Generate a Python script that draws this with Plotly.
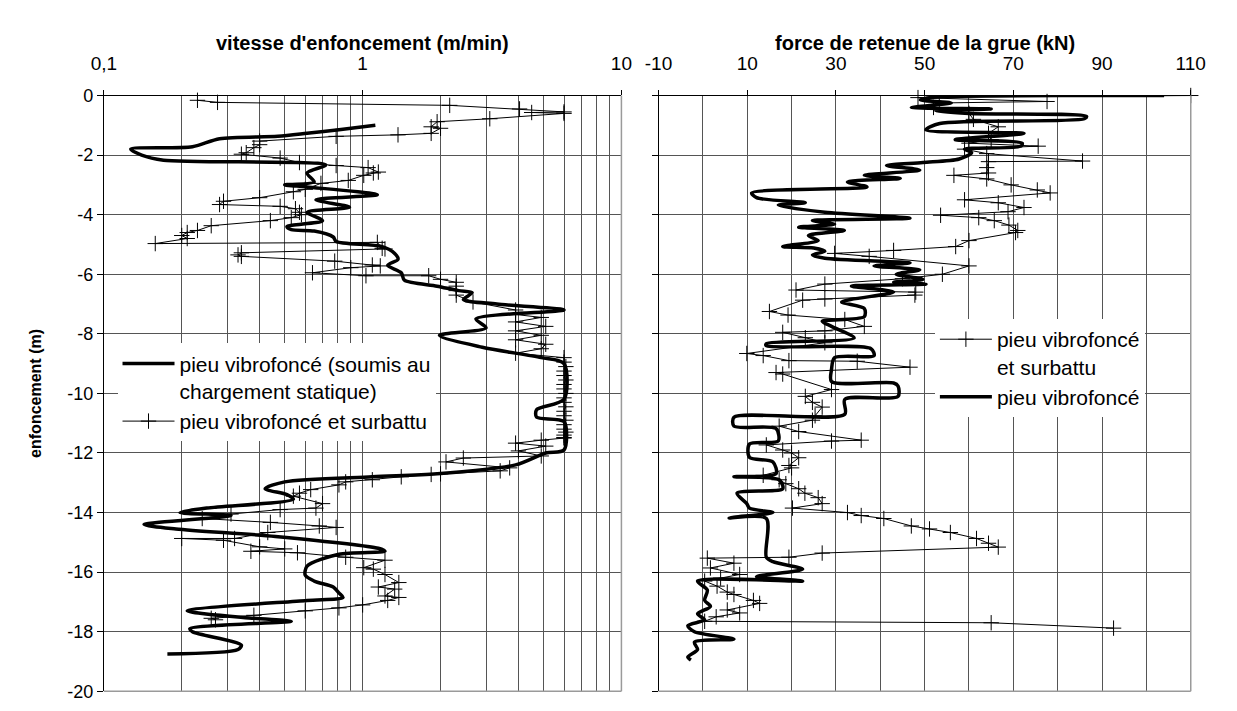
import plotly.graph_objects as go

# ---------------- data ----------------
# Left panel: vitesse d'enfoncement (m/min) vs enfoncement (m)
vit_statique_v = [1.12, 0.81, 0.61, 0.47, 0.28, 0.22, 0.127, 0.14, 0.17, 0.72, 0.61, 0.65, 0.50, 0.61,
                  1.14, 0.66, 0.89, 0.61, 0.70, 0.51, 0.53, 0.65, 0.77, 0.79, 1.19, 1.33, 1.37, 1.25,
                  1.41, 1.45, 1.94, 2.35, 2.65, 2.45, 3.3, 6.0, 2.74, 3.0, 1.98, 2.9, 4.9, 6.0, 6.0,
                  4.7, 4.7, 6.0, 6.0, 5.1, 3.9, 1.94, 1.09, 0.50, 0.42, 0.51, 0.54, 0.25, 0.197, 0.31,
                  0.143, 0.19, 0.46, 1.15, 1.22, 0.81, 0.61, 0.60, 0.65, 0.77, 0.81, 0.84, 0.61, 0.21,
                  0.38, 0.53, 0.215, 0.22, 0.34, 0.33, 0.176]
vit_statique_d = [-1.0, -1.15, -1.27, -1.37, -1.45, -1.72, -1.8, -2.0, -2.17, -2.33, -2.6, -2.9, -3.0, -3.07,
                  -3.33, -3.5, -3.75, -3.92, -4.2, -4.4, -4.5, -4.55, -4.75, -4.9, -5.07, -5.3, -5.5, -5.7,
                  -5.95, -6.2, -6.4, -6.55, -6.62, -6.85, -7.0, -7.2, -7.5, -7.8, -8.05, -8.45, -8.8, -9.0, -10.2,
                  -10.55, -10.8, -10.95, -11.9, -12.0, -12.4, -12.7, -12.8, -12.97, -13.2, -13.4, -13.55, -13.85, -14.0, -14.1,
                  -14.4, -14.55, -14.8, -15.2, -15.3, -15.4, -15.8, -16.1, -16.3, -16.5, -16.7, -16.85, -16.95, -17.3,
                  -17.55, -17.65, -17.9, -18.0, -18.45, -18.6, -18.75]

vit_surbattu_v = [0.23, 0.275, 2.17, 4.04, 6.0, 4.5, 6.0, 3.1, 1.94, 1.84, 2.0, 1.84, 1.37, 0.79, 0.40, 0.40,
                  0.38, 0.355, 0.34, 0.48, 0.57, 0.79, 1.05, 1.15, 1.10, 1.01, 0.88, 0.69, 0.60, 0.54, 0.40,
                  0.29, 0.28, 0.48, 0.55, 0.57, 0.58, 0.53, 0.44, 0.26, 0.23, 0.21, 0.20, 0.21, 0.158, 1.14,
                  1.19, 1.22, 0.34, 0.33, 0.34, 0.78, 1.09, 1.17, 0.90, 0.64, 1.03, 1.8, 2.0, 2.3, 2.3, 2.3,
                  2.3, 2.67, 3.9, 3.9, 4.9, 3.9, 5.1, 3.9, 4.9, 3.9, 5.1, 4.9, 3.9, 6.0, 6.0, 6.1, 6.0, 6.0,
                  6.1, 6.0, 6.0, 6.1, 6.0, 6.0, 6.1, 6.0, 6.0, 6.1, 6.0, 6.0, 6.1, 6.0, 6.0, 6.0, 4.9, 3.9,
                  5.1, 4.0, 4.9, 2.45, 2.1, 3.7, 3.4, 2.0, 1.84, 1.41, 1.09, 0.86, 0.81, 0.63, 0.57, 0.54,
                  0.70, 0.66, 0.48, 0.31, 0.24, 0.44, 0.68, 0.79, 0.43, 0.32, 0.20, 0.29, 0.40, 0.50, 0.37,
                  0.56, 0.86, 1.22, 1.01, 1.10, 1.22, 1.38, 1.15, 1.33, 1.22, 1.38, 1.25, 1.0, 0.81, 0.60,
                  0.38, 0.26, 0.27]
vit_surbattu_d = [-0.16, -0.23, -0.33, -0.45, -0.55, -0.57, -0.6, -0.78, -0.88, -1.05, -1.1, -1.27, -1.32, -1.37, -1.53, -1.65,
                  -1.75, -1.92, -1.97, -2.1, -2.25, -2.35, -2.42, -2.57, -2.6, -2.68, -2.85, -2.95, -3.15, -3.23, -3.43,
                  -3.55, -3.66, -3.72, -3.8, -3.92, -4.0, -4.1, -4.2, -4.37, -4.53, -4.6, -4.7, -4.8, -4.97, -4.93,
                  -5.13, -5.15, -5.28, -5.35, -5.4, -5.56, -5.69, -5.72, -5.78, -5.95, -6.05, -6.05, -6.17, -6.27, -6.4, -6.55,
                  -6.7, -6.93, -7.2, -7.35, -7.45, -7.6, -7.75, -7.9, -8.05, -8.2, -8.35, -8.5, -8.65, -8.8, -8.95, -9.1, -9.25, -9.4,
                  -9.55, -9.7, -9.85, -10.0, -10.15, -10.3, -10.45, -10.6, -10.75, -10.9, -11.05, -11.2, -11.3, -11.4, -11.48, -11.5, -11.57, -11.67,
                  -11.77, -11.93, -12.1, -12.17, -12.3, -12.5, -12.6, -12.7, -12.72, -12.8, -12.9, -12.97, -13.07, -13.23, -13.35, -13.45,
                  -13.7, -13.85, -13.9, -14.05, -14.2, -14.33, -14.45, -14.5, -14.67, -14.87, -14.87, -14.93, -15.15, -15.22, -15.3,
                  -15.35, -15.5, -15.6, -15.85, -15.9, -16.08, -16.35, -16.5, -16.57, -16.8, -16.85, -16.95, -17.1, -17.2, -17.3,
                  -17.45, -17.55, -17.6]

# Right panel: force de retenue de la grue (kN) vs enfoncement (m)
force_vibro_f = [104, 52, 49, 56, 47, 65, 52.5, 60, 86.5, 86, 53.4, 50.3, 72.4, 56.9, 72, 71.7, 59, 60.6,
                 57.8, 49.6, 41.4, 48.9, 36.4, 44.5, 32.6, 37, 11, 12.1, 23.1, 17, 27.5, 46.7, 24.7, 29.7,
                 21.6, 31.9, 23.8, 26, 18, 25, 27.5, 24.7, 27.5, 46.7, 38.6, 48.9, 43.6, 49.6, 43, 50.3, 33.5,
                 43, 31.3, 36.4, 36.4, 26.9, 29, 34.1, 14.3, 14.3, 37.9, 38.6, 29.7, 29, 29, 43, 44, 44, 32, 32,
                 7, 7, 16.5, 17, 10.5, 10.5, 15.8, 16.5, 7, 17.2, 18, 7.7, 9.9, 10.5, 15.8, 5.9, 14.3, 14.3,
                 15.8, 22.5, 12.1, 22.5, -1.2, 1, 0.4, 1.7, -1.2, 0.4, -3.4, -1.9, 7, -1.9, -1.2, -3.4, -2.7]
force_vibro_d = [0.0, -0.06, -0.15, -0.25, -0.4, -0.45, -0.52, -0.6, -0.7, -0.78, -0.94, -1.15, -1.27, -1.48, -1.6, -1.7, -1.8, -1.92,
                 -2.13, -2.25, -2.35, -2.5, -2.68, -2.78, -2.9, -3.07, -3.27, -3.43, -3.6, -3.68, -3.92, -4.12, -4.2, -4.32,
                 -4.42, -4.53, -4.7, -4.87, -5.07, -5.12, -5.23, -5.35, -5.46, -5.62, -5.72, -5.85, -6.0, -6.17, -6.27, -6.33, -6.4,
                 -6.6, -6.93, -7.15, -7.42, -7.58, -7.75, -8.14, -8.33, -8.4, -8.5, -8.73, -8.8, -9.2, -9.6, -9.65, -9.75, -10.1, -10.2, -10.7,
                 -10.8, -11.1, -11.18, -11.6, -11.7, -12.15, -12.3, -12.7, -12.8, -12.9, -13.2, -13.35, -13.7, -13.85, -14.0, -14.18, -14.2, -15.5,
                 -15.65, -15.9, -16.15, -16.3, -16.3, -16.6, -16.95, -17.15, -17.4, -17.6, -17.8, -18.0, -18.25, -18.35, -18.6, -18.85, -18.95]

force_surbattu_f = [110, 48.5, 77.6, 53.3, 52, 60, 61, 66.6, 64.4, 65, 60, 75.6, 59, 64, 85.6, 64.4, 64, 64.4,
                    56.6, 64, 69.5, 75.4, 78.3, 59, 66.6, 72.4, 68.8, 53.6, 62.2, 65.7, 69, 71, 70.5, 60, 57,
                    43, 29.7, 37.5, 60, 54, 45, 27.5, 21, 48, 47.8, 27.5, 22.5, 15, 19.2, 32, 36.4, 27.5, 18,
                    23.1, 27.5, 9.9, 13.6, 19.4, 34.8, 46.7, 16.5, 18, 29, 23.1, 24.7, 26.9, 25.3, 24.7, 17.2,
                    21.6, 35.7, 29, 14.3, 18, 20, 21.6, 19.4, 20, 13.6, 17.2, 18.7, 21.6, 23, 26, 26.9, 20.2,
                    32.6, 35.7, 40.8, 47, 51.1, 55.8, 61.7, 64.4, 66.6, 26.9, 19.4, 1, 7, 1.7, 8.3, 4, 0.4,
                    3.2, 5.5, 7, 11.4, 12.8, 5.5, 8.3, 3, 0.4, 65, 92.6]
force_surbattu_d = [0.0, -0.07, -0.2, -0.25, -0.4, -0.6, -0.8, -1.05, -1.27, -1.48, -1.6, -1.7, -1.8, -1.95, -2.2, -2.22, -2.42, -2.6,
                    -2.68, -2.8, -3.0, -3.17, -3.27, -3.5, -3.6, -3.76, -3.9, -4.02, -4.1, -4.2, -4.35, -4.53, -4.6, -4.87, -5.07,
                    -5.2, -5.3, -5.4, -5.72, -6.0, -6.15, -6.33, -6.53, -6.6, -6.7, -6.83, -6.87, -7.25, -7.37, -7.52, -7.75, -7.9, -7.95,
                    -8.13, -8.3, -8.66, -8.73, -8.9, -8.92, -9.12, -9.3, -9.35, -9.87, -10.1, -10.3, -10.46, -10.75, -10.9, -11.1,
                    -11.28, -11.57, -11.6, -11.73, -11.9, -12.0, -12.16, -12.42, -12.5, -12.75, -12.9, -13.03, -13.2, -13.35, -13.5, -13.7, -13.85,
                    -14.0, -14.1, -14.2, -14.45, -14.55, -14.67, -14.87, -15.03, -15.16, -15.36, -15.5, -15.53, -15.7, -15.86, -16.08, -16.2, -16.3,
                    -16.47, -16.67, -16.75, -16.95, -17.05, -17.27, -17.37, -17.5, -17.65, -17.7, -17.88]

depth_ticks = [0, -2, -4, -6, -8, -10, -12, -14, -16, -18, -20]
depth_labels = ["0", "-2", "-4", "-6", "-8", "-10", "-12", "-14", "-16", "-18", "-20"]
vit_ticks = [0.1, 1, 10]
vit_labels = ["0,1", "1", "10"]
vit_minor = [0.2, 0.3, 0.4, 0.5, 0.6, 0.7, 0.8, 0.9, 2, 3, 4, 5, 6, 7, 8, 9]
force_ticks = [-10, 10, 30, 50, 70, 90, 110]
force_minor = [0, 20, 40, 60, 80, 100]

# ---------------- figure ----------------
W, H = 1237, 711
FONT = "Liberation Sans, Arial, sans-serif"
L_X0, L_X1 = 92, 622
R_X0, R_X1 = 660, 1205
Y0, Y1 = 88, 701

def px(x):
    return x / W

def py(y):
    return 1 - y / H

fig = go.Figure()

thick = dict(color="black", width=3.5, shape="spline", smoothing=0.8)
thin = dict(color="black", width=1)
plus_marker = dict(symbol="cross-thin", size=11, line=dict(color="black", width=1))

fig.add_trace(go.Scatter(
    x=vit_statique_v, y=vit_statique_d, mode="lines", line=thick, cliponaxis=False,
    name="pieu vibrofoncé (soumis au<br>chargement statique)", xaxis="x", yaxis="y", legend="legend"))
fig.add_trace(go.Scatter(
    x=vit_surbattu_v, y=vit_surbattu_d, mode="lines+markers", line=thin, marker=plus_marker,
    cliponaxis=False, name="pieu vibrofoncé et surbattu", xaxis="x", yaxis="y", legend="legend"))
fig.add_trace(go.Scatter(
    x=force_surbattu_f, y=force_surbattu_d, mode="lines+markers", line=thin, marker=plus_marker,
    cliponaxis=False, name="pieu vibrofoncé<br>et surbattu", xaxis="x2", yaxis="y2", legend="legend2"))
fig.add_trace(go.Scatter(
    x=force_vibro_f, y=force_vibro_d, mode="lines", line=thick, cliponaxis=False,
    name="pieu vibrofoncé", xaxis="x2", yaxis="y2", legend="legend2"))

ydom = [py(Y1), py(Y0)]
grid_c = "#555555"

common_x = dict(side="top", showline=True, linecolor="black", linewidth=1, ticks="outside",
                ticklen=5, tickcolor="black", showgrid=True, gridcolor=grid_c, gridwidth=1,
                zeroline=False, tickfont=dict(family=FONT, size=19, color="black"),
                ticklabelstandoff=12, ticklabeloverflow="allow")

legend_font = dict(family=FONT, size=21, color="black")

fig.update_layout(
    width=W, height=H, margin=dict(l=0, r=0, t=0, b=0),
    paper_bgcolor="white", plot_bgcolor="white",
    font=dict(family=FONT, color="black"),
    xaxis=dict(common_x, type="log", range=[-1, 1], domain=[px(L_X0), px(L_X1)], anchor="y",
               tickvals=vit_ticks, ticktext=vit_labels,
               minor=dict(tickvals=vit_minor, showgrid=True, gridcolor=grid_c, gridwidth=1, ticks="")),
    yaxis=dict(range=[-20, 0], domain=ydom, anchor="x", showline=True, linecolor="black",
               ticks="outside", ticklen=6, tickcolor="black", tickvals=depth_ticks, ticktext=depth_labels,
               showgrid=True, gridcolor=grid_c, zeroline=False, ticklabeloverflow="allow",
               tickfont=dict(family=FONT, size=18, color="black")),
    xaxis2=dict(common_x, range=[-10, 110], domain=[px(R_X0), px(R_X1)], anchor="y2",
                tickvals=force_ticks, ticktext=[str(t) for t in force_ticks],
                minor=dict(tickvals=force_minor, showgrid=True, gridcolor=grid_c, gridwidth=1, ticks="")),
    yaxis2=dict(range=[-20, 0], domain=ydom, anchor="x2", showline=True, linecolor="black",
                ticks="outside", ticklen=6, tickcolor="black", tickvals=depth_ticks,
                showticklabels=False, showgrid=True, gridcolor=grid_c, zeroline=False),
    legend=dict(x=px(106), y=py(343), xanchor="left", yanchor="top", bgcolor="white",
                borderwidth=0, font=legend_font, valign="top",
                itemwidth=52, tracegroupgap=4),
    legend2=dict(x=px(943), y=py(318), xanchor="left", yanchor="top", bgcolor="white",
                 borderwidth=0, font=legend_font, valign="top",
                 itemwidth=52, tracegroupgap=4),
    showlegend=True,
)

# gray plot-area borders (bottom / right)
for x0, x1 in [(L_X0, L_X1), (R_X0, R_X1)]:
    fig.add_shape(type="line", xref="paper", yref="paper", x0=px(x0), x1=px(x1), y0=py(Y1), y1=py(Y1),
                  line=dict(color="#9a9a9a", width=1.5))
    fig.add_shape(type="line", xref="paper", yref="paper", x0=px(x1), x1=px(x1), y0=py(Y1), y1=py(Y0),
                  line=dict(color="#9a9a9a", width=1.5))

# axis titles
fig.add_annotation(text="<b>vitesse d'enfoncement (m/min)</b>", x=px((L_X0 + L_X1) / 2), y=py(34),
                   xref="paper", yref="paper", showarrow=False, xanchor="center", yanchor="middle",
                   font=dict(family=FONT, size=20, color="black"))
fig.add_annotation(text="<b>force de retenue de la grue (kN)</b>", x=px((R_X0 + R_X1) / 2), y=py(34),
                   xref="paper", yref="paper", showarrow=False, xanchor="center", yanchor="middle",
                   font=dict(family=FONT, size=20, color="black"))
fig.add_annotation(text="<b>enfoncement (m)</b>", x=px(22), y=py((Y0 + Y1) / 2), textangle=-90,
                   xref="paper", yref="paper", showarrow=False, xanchor="center", yanchor="middle",
                   font=dict(family=FONT, size=16, color="black"))

fig.write_html("out.html")
